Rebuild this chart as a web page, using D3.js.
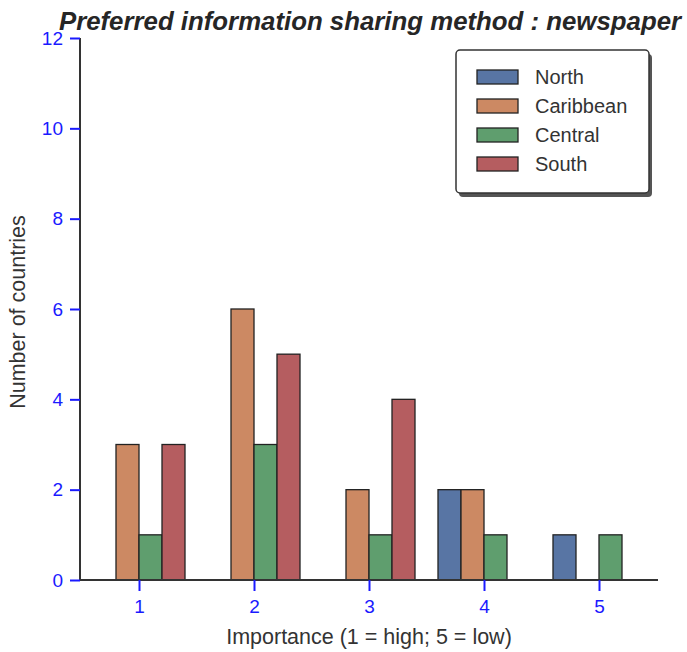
<!DOCTYPE html>
<html><head><meta charset="utf-8">
<script src="https://cdn.jsdelivr.net/npm/d3@7"></script>
<style>body{margin:0;background:#fff;} svg{display:block;font-family:"Liberation Sans",Arial,sans-serif;}</style>
</head><body><svg id="c" width="687" height="652"></svg>
<script>
const importance = [1, 2, 3, 4, 5];
const regions = ["North", "Caribbean", "Central", "South"];
const north     = [0, 0, 0, 2, 1];
const caribbean = [3, 6, 2, 2, 0];
const central   = [1, 3, 1, 1, 1];
const south     = [3, 5, 4, 0, 0];
const yTicks = [0, 2, 4, 6, 8, 10, 12];
const colors = ["#5875A4", "#CC8963", "#5F9E6E", "#B55D60"];
const seriesVals = [north, caribbean, central, south];

(function(){
const svg = d3.select("#c");
const mL = 80, mR = 658, mT = 38, mB = 580;
const pad = 59 / 115;
const x = d3.scaleLinear().domain([1 - pad, 5 + pad]).range([mL, mR]);
const y = d3.scaleLinear().domain([0, 12]).range([mB, mT]);
const unit = x(2) - x(1);
const bw = unit * 0.8 / 4;

// bars
regions.forEach((r, i) => {
  svg.append("g").selectAll("rect").data(importance.map((imp, j) => ({imp, v: seriesVals[i][j]})).filter(d => d.v > 0))
    .join("rect")
    .attr("x", d => x(d.imp) - 2 * bw + i * bw)
    .attr("y", d => y(d.v))
    .attr("width", bw)
    .attr("height", d => y(0) - y(d.v))
    .attr("fill", colors[i])
    .attr("stroke", "#222")
    .attr("stroke-width", 1.3);
});

// axes
const gx = svg.append("g").attr("transform", `translate(0,${mB})`)
  .call(d3.axisBottom(x).tickValues(importance).tickFormat(d3.format("d")).tickSize(11).tickSizeOuter(0).tickPadding(9));
const gy = svg.append("g").attr("transform", `translate(${mL},0)`)
  .call(d3.axisLeft(y).tickValues(yTicks).tickSize(10).tickSizeOuter(0).tickPadding(7));
[gx, gy].forEach(g => {
  g.attr("font-size", null).attr("font-family", null);
  g.select(".domain").attr("stroke", "#333").attr("stroke-width", 2);
  g.selectAll(".tick line").attr("stroke", "#1a1aff").attr("stroke-width", 2);
  g.selectAll(".tick text").attr("fill", "#1a1aff").attr("font-size", 19).attr("font-family", "Liberation Sans, Arial, sans-serif");
});
gx.select(".domain").attr("d", `M${mL},0H${mR}`);
gy.select(".domain").attr("d", `M0,${mT}V${mB}`);

// title & labels
svg.append("text").attr("x", 370).attr("y", 30).attr("text-anchor", "middle")
  .attr("fill", "#262626").attr("font-size", 25.8).attr("font-weight", "bold").attr("font-style", "italic")
  .text("Preferred information sharing method : newspaper");
svg.append("text").attr("x", 369).attr("y", 644).attr("text-anchor", "middle")
  .attr("fill", "#333").attr("font-size", 21.5).text("Importance (1 = high; 5 = low)");
svg.append("text").attr("transform", "translate(25,312) rotate(-90)").attr("text-anchor", "middle")
  .attr("fill", "#333").attr("font-size", 21.5).text("Number of countries");

// legend
const lg = svg.append("g");
lg.append("rect").attr("x", 459).attr("y", 54).attr("width", 193).attr("height", 143).attr("rx", 4)
  .attr("fill", "#555");
lg.append("rect").attr("x", 456).attr("y", 50).attr("width", 193).attr("height", 143).attr("rx", 4)
  .attr("fill", "#fff").attr("stroke", "#333").attr("stroke-width", 1.5);
regions.forEach((r, i) => {
  const yy = 77 + i * 29;
  lg.append("rect").attr("x", 477).attr("y", yy - 7).attr("width", 41).attr("height", 14)
    .attr("fill", colors[i]).attr("stroke", "#222").attr("stroke-width", 1.3);
  lg.append("text").attr("x", 535).attr("y", yy + 7).attr("fill", "#333").attr("font-size", 20).text(r);
});
})();
</script></body></html>
